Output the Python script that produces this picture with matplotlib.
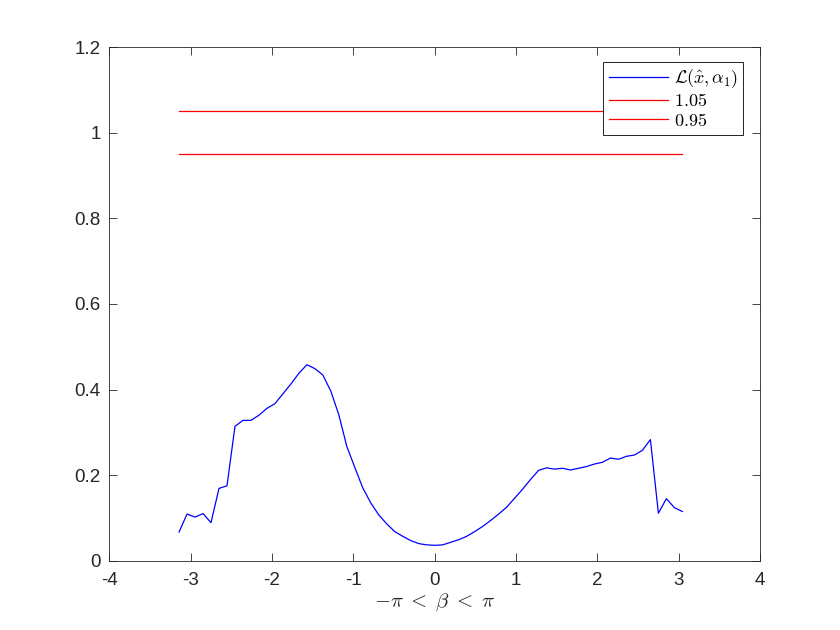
import numpy as np
import matplotlib.pyplot as plt

plt.rcParams['font.family'] = ['Liberation Sans', 'DejaVu Sans']
plt.rcParams['mathtext.fontset'] = 'cm'

# beta sampled on [-pi, pi) with 64 steps
n_pts = 64
beta = -np.pi + np.arange(n_pts) * (2 * np.pi / n_pts)

# values
L_vals = [0.067, 0.109, 0.102, 0.110, 0.089, 0.169, 0.175, 0.314,
          0.328, 0.328, 0.340, 0.356, 0.367, 0.390, 0.413, 0.438,
          0.458, 0.449, 0.434, 0.396, 0.341, 0.267, 0.218, 0.170,
          0.135, 0.107, 0.086, 0.068, 0.057, 0.047, 0.040, 0.037,
          0.036, 0.037, 0.043, 0.049, 0.057, 0.068, 0.080, 0.094,
          0.109, 0.125, 0.146, 0.167, 0.190, 0.211, 0.217, 0.214,
          0.216, 0.212, 0.216, 0.220, 0.226, 0.230, 0.240, 0.237,
          0.244, 0.247, 0.258, 0.283, 0.111, 0.145, 0.124, 0.115]
upper = 1.05
lower = 0.95

ax_col = '#262626'
fig = plt.figure(figsize=(8.4, 6.3), dpi=100)
ax = fig.add_axes([0.13, 0.11, 0.775, 0.815])

ax.plot(beta, L_vals, color='b', lw=0.9, label=r'$\mathcal{L}(\hat{x},\alpha_1)$')
ax.plot(beta, np.full(n_pts, upper), color='r', lw=0.9, label=r'$1.05$')
ax.plot(beta, np.full(n_pts, lower), color='r', lw=0.9, label=r'$0.95$')

ax.set_xlim(-4, 4)
ax.set_ylim(0, 1.2)
ax.set_xticks(np.arange(-4, 5, 1))
ax.set_yticks(np.arange(0, 1.21, 0.2))
ax.set_xticklabels([str(v) for v in range(-4, 5)])
ax.set_yticklabels(['0', '0.2', '0.4', '0.6', '0.8', '1', '1.2'])

ax.tick_params(direction='in', top=True, right=True, length=6, width=0.6,
               labelsize=13.5, colors=ax_col)
ax.tick_params(axis='x', pad=8)
ax.tick_params(axis='y', pad=6)
for s in ax.spines.values():
    s.set_color(ax_col)
    s.set_linewidth(0.6)

ax.set_xlabel(r'$-\pi \;<\; \beta \;<\; \pi$', fontsize=15, color=ax_col, labelpad=2)

leg = ax.legend(loc='upper right', bbox_to_anchor=(0.974, 0.9708), borderaxespad=0,
                fontsize=13, handlelength=3.3, fancybox=False, framealpha=1,
                edgecolor='black', labelspacing=0.15, borderpad=0.3, handletextpad=0.3)
leg.get_frame().set_linewidth(0.6)

fig.savefig('out.png', dpi=100)
